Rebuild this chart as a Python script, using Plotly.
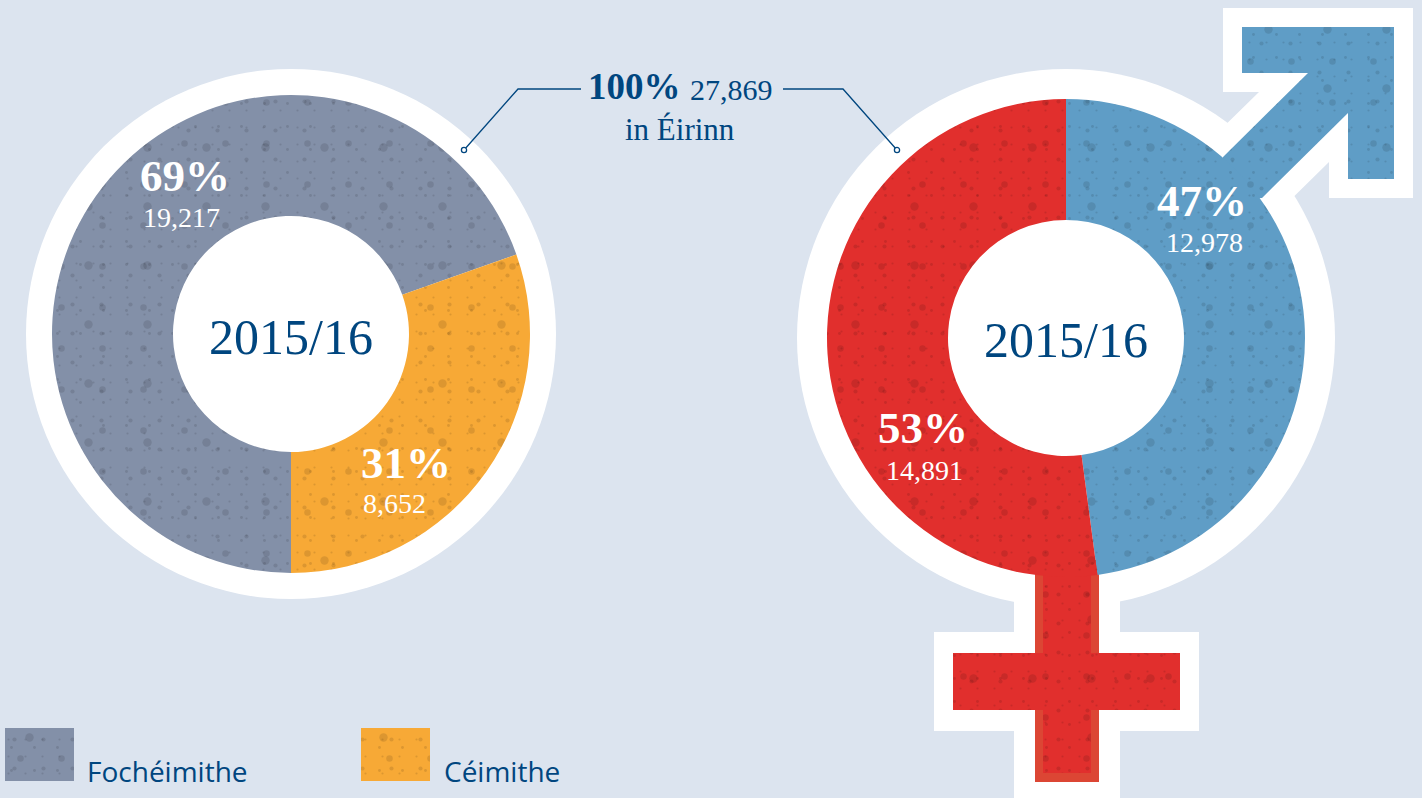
import plotly.graph_objects as go

# ---- data ----
left_labels = ["Fochéimithe", "Céimithe"]
left_counts = ["19,217", "8,652"]
left_percent = ["69%", "31%"]
left_drawn_share = [69.6, 30.4]      # slice sizes as actually drawn in the reference

right_labels = ["Fir", "Mná"]
right_counts = ["12,978", "14,891"]
right_percent = ["47%", "53%"]
right_drawn_share = [47.9, 52.1]     # slice sizes as actually drawn in the reference

year_label = "2015/16"
total_percent = "100%"
total_count = "27,869"
total_place = "in Éirinn"

# ---- style ----
W, H = 1422, 798
BG = "#dce4ef"
NAVY = "#00467f"
GREY = "#8390a8"
ORANGE = "#f7a936"
BLUE = "#5f9dc6"
RED = "#e12f2d"
STEM_EDGE = "#dc4634"
R_OUT, R_IN = 239, 118
LEFT_C = (291, 334)
RIGHT_C = (1066, 338)
SERIF = "Liberation Serif"
SANS = "Open Sans"

# speckle layers: (tile size, solidity)
SPECKLE = [(59, 0.016), (41, 0.02), (29, 0.016), (23, 0.012), (17, 0.012)]
SPECKLE_OPACITY = 0.11


def domain(c, r):
    return dict(x=[(c[0] - r) / W, (c[0] + r) / W], y=[1 - (c[1] + r) / H, 1 - (c[1] - r) / H])


def poly(points, colour, speckled=True):
    xs = [p[0] for p in points] + [points[0][0]]
    ys = [p[1] for p in points] + [points[0][1]]
    out = [go.Scatter(x=xs, y=ys, mode="lines", line=dict(width=0), fill="toself",
                      fillcolor=colour, hoverinfo="skip", showlegend=False)]
    if not speckled:
        return out
    for size, sol in SPECKLE:
        out.append(go.Scatter(x=xs, y=ys, mode="lines", line=dict(width=0), fill="toself",
                              fillcolor="rgba(0,0,0,0)", hoverinfo="skip", showlegend=False,
                              fillpattern=dict(shape=".", size=size, solidity=sol, fgcolor="#000000",
                                               fgopacity=SPECKLE_OPACITY, bgcolor="rgba(0,0,0,0)",
                                               fillmode="overlay")))
    return out


def pie(values, labels, colours, c, rotation):
    out = [go.Pie(values=values, labels=labels, hole=R_IN / R_OUT, sort=False, direction="clockwise",
                  rotation=rotation, domain=domain(c, R_OUT), textinfo="none", hoverinfo="label+percent",
                  marker=dict(colors=colours, line=dict(width=0)), showlegend=False)]
    for size, sol in SPECKLE:
        out.append(go.Pie(values=values, labels=labels, hole=R_IN / R_OUT, sort=False, direction="clockwise",
                          rotation=rotation, domain=domain(c, R_OUT), textinfo="none", hoverinfo="skip",
                          marker=dict(colors=["rgba(0,0,0,0)"] * len(values), line=dict(width=0),
                                      pattern=dict(shape=".", size=size, solidity=sol, fgcolor="#000000",
                                                   fgopacity=SPECKLE_OPACITY, bgcolor="rgba(0,0,0,0)",
                                                   fillmode="overlay")),
                          showlegend=False))
    return out


def path(points):
    return "M " + " L ".join(f"{x},{y}" for x, y in points) + " Z"


def circle(c, r, **kw):
    return dict(type="circle", xref="x", yref="y", x0=c[0] - r, x1=c[0] + r, y0=c[1] - r, y1=c[1] + r, **kw)


traces = []
# symbols (under the pies)
traces += poly([(1242, 27), (1394, 27), (1394, 179), (1348, 179), (1348, 113), (1262, 198),
                (1220, 200), (1223, 157), (1308, 73), (1242, 73)], BLUE)
traces += poly([(1035, 560), (1099, 560), (1099, 782), (1035, 782)], STEM_EDGE, speckled=False)
traces += poly([(1043, 560), (1091, 560), (1091, 653), (1180, 653), (1180, 710), (1091, 710),
                (1091, 773), (1043, 773), (1043, 710), (953, 710), (953, 653), (1043, 653)], RED)
# legend swatches
traces += poly([(5, 728), (74, 728), (74, 781), (5, 781)], GREY)
traces += poly([(361, 728), (430, 728), (430, 781), (361, 781)], ORANGE)
# pies
traces += pie(left_drawn_share, left_labels, [GREY, ORANGE], LEFT_C, 180)
traces += pie(right_drawn_share, right_labels, [BLUE, RED], RIGHT_C, 0)

fig = go.Figure(traces)

white = dict(fillcolor="white", line=dict(width=0), layer="below")
shapes = [
    circle(LEFT_C, 265, **white),
    circle(RIGHT_C, 269, **white),
    dict(type="path", xref="x", yref="y",
         path=path([(1223, 8), (1413, 8), (1413, 198), (1329, 198), (1329, 162), (1270, 220),
                    (1210, 140), (1259, 92), (1223, 92)]), **white),
    dict(type="path", xref="x", yref="y",
         path=path([(1014, 590), (1120, 590), (1120, 632), (1199, 632), (1199, 731), (1120, 731),
                    (1120, 798), (1014, 798), (1014, 731), (934, 731), (934, 632), (1014, 632)]), **white),
    dict(type="path", xref="x", yref="y", path="M 581,89 L 518,89 L 464,150",
         line=dict(color=NAVY, width=1.3), layer="above"),
    dict(type="path", xref="x", yref="y", path="M 783,89 L 843,89 L 897,150",
         line=dict(color=NAVY, width=1.3), layer="above"),
    circle((464, 150), 2.6, fillcolor="white", line=dict(color=NAVY, width=1.3), layer="above"),
    circle((897, 150), 2.6, fillcolor="white", line=dict(color=NAVY, width=1.3), layer="above"),
]


def note(x, y, text, size, colour, bold=False, family=SERIF, anchor="center"):
    return dict(x=x, y=y, xref="x", yref="y", text=f"<b>{text}</b>" if bold else text, showarrow=False,
                xanchor=anchor, yanchor="middle", font=dict(family=family, size=size, color=colour))


annotations = [
    note(291, 337, year_label, 50, NAVY),
    note(1066, 340, year_label, 50, NAVY),
    note(184.5, 176, left_percent[0], 45, "white", True),
    note(181, 217, left_counts[0], 28, "white"),
    note(405.5, 463, left_percent[1], 45, "white", True),
    note(394, 503, left_counts[1], 28, "white"),
    note(1202, 201, right_percent[0], 45, "white", True),
    note(1204, 242, right_counts[0], 28, "white"),
    note(923, 428, right_percent[1], 45, "white", True),
    note(924, 470, right_counts[1], 28, "white"),
    note(634.5, 86, total_percent, 37, NAVY, True),
    note(731, 89, total_count, 30, NAVY),
    note(680, 129, total_place, 31, NAVY),
    note(85, 771, left_labels[0], 28, NAVY, family=SANS, anchor="left"),
    note(442, 771, left_labels[1], 28, NAVY, family=SANS, anchor="left"),
]

fig.update_layout(
    width=W, height=H, margin=dict(l=0, r=0, t=0, b=0), autosize=False,
    paper_bgcolor=BG, plot_bgcolor=BG, showlegend=False,
    xaxis=dict(range=[0, W], visible=False, fixedrange=True),
    yaxis=dict(range=[H, 0], visible=False, fixedrange=True),
    shapes=shapes, annotations=annotations,
)
fig.write_html("out.html", config=dict(displayModeBar=False),
               post_script=f"document.body.style.margin='0';document.body.style.overflow='hidden';"
                           f"document.body.style.background='{BG}';")
